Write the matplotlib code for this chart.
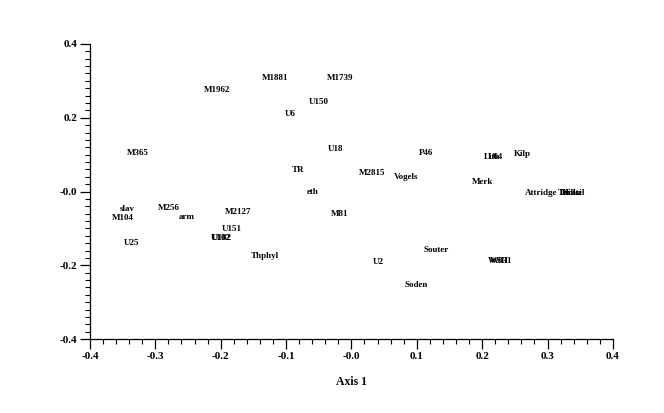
import matplotlib
matplotlib.use('Agg')
import matplotlib.pyplot as plt
from matplotlib.ticker import MultipleLocator

# scores on the first two axes
labels = ['M1881', 'M1739', 'M1962', 'U150', 'U6', 'M365', 'U18', 'TR',
          'M2815', 'eth', 'P46', 'Vogels', 'Merk', 'Kilp', 'Lith', 'U64',
          'Attridge', 'Tbilisi', 'Dinkel', 'Hutt', 'M81', 'Souter', 'U2',
          'Soden', 'WSH', 'W831', 'slav', 'M104', 'M256', 'arm', 'M2127',
          'U151', 'U182', 'U102', 'U25', 'Thphyl']
axis1 = [-0.116, -0.018, -0.206, -0.050, -0.094, -0.327, -0.024, -0.082,
         0.031, -0.059, 0.114, 0.083, 0.200, 0.262, 0.216, 0.220,
         0.290, 0.334, 0.338, 0.336, -0.018, 0.129, 0.041,
         0.099, 0.225, 0.229, -0.343, -0.350, -0.279, -0.252, -0.174,
         -0.183, -0.198, -0.200, -0.337, -0.132]
axis2 = [0.308, 0.308, 0.275, 0.243, 0.210, 0.104, 0.115, 0.058,
         0.050, -0.001, 0.104, 0.039, 0.026, 0.102, 0.094, 0.094,
         -0.004, -0.003, -0.003, -0.004, -0.061, -0.159, -0.191,
         -0.254, -0.188, -0.188, -0.047, -0.072, -0.045, -0.069, -0.056,
         -0.102, -0.126, -0.126, -0.140, -0.175]

ticks = [-0.4, -0.3, -0.2, -0.1, 0.0, 0.1, 0.2, 0.3, 0.4]
xticklabels = ['-0.4', '-0.3', '-0.2', '-0.1', '-0.0', '0.1', '0.2', '0.3', '0.4']
yticks = [-0.4, -0.2, 0.0, 0.2, 0.4]
yticklabels = ['-0.4', '-0.2', '-0.0', '0.2', '0.4']

plt.rcParams['font.family'] = ['Liberation Serif', 'DejaVu Serif']
plt.rcParams['font.weight'] = 'bold'

fig = plt.figure(figsize=(6.64, 4.13), dpi=100)
ax = fig.add_axes([0.1355, 0.179, 0.7875, 0.7145])

for name, x, y in zip(labels, axis1, axis2):
    ax.text(x, y, name, ha='center', va='center', fontsize=6.5,
            fontweight='bold')

ax.set_xlim(-0.4, 0.4)
ax.set_ylim(-0.4, 0.4)
ax.set_xticks(ticks)
ax.set_xticklabels(xticklabels)
ax.set_yticks(yticks)
ax.set_yticklabels(yticklabels)
ax.xaxis.set_minor_locator(MultipleLocator(0.02))
ax.yaxis.set_minor_locator(MultipleLocator(0.02))
ax.tick_params(which='major', direction='out', length=7, width=0.9,
               labelsize=8, pad=2)
ax.tick_params(which='minor', direction='out', length=3.5, width=0.8)
for lab in ax.get_xticklabels() + ax.get_yticklabels():
    lab.set_fontweight('bold')

ax.spines['top'].set_visible(False)
ax.spines['right'].set_visible(False)
ax.spines['left'].set_linewidth(0.9)
ax.spines['bottom'].set_linewidth(0.9)

ax.set_xlabel('Axis 1', fontsize=8.5, fontweight='bold', labelpad=11)

fig.savefig('out.png', dpi=100)
